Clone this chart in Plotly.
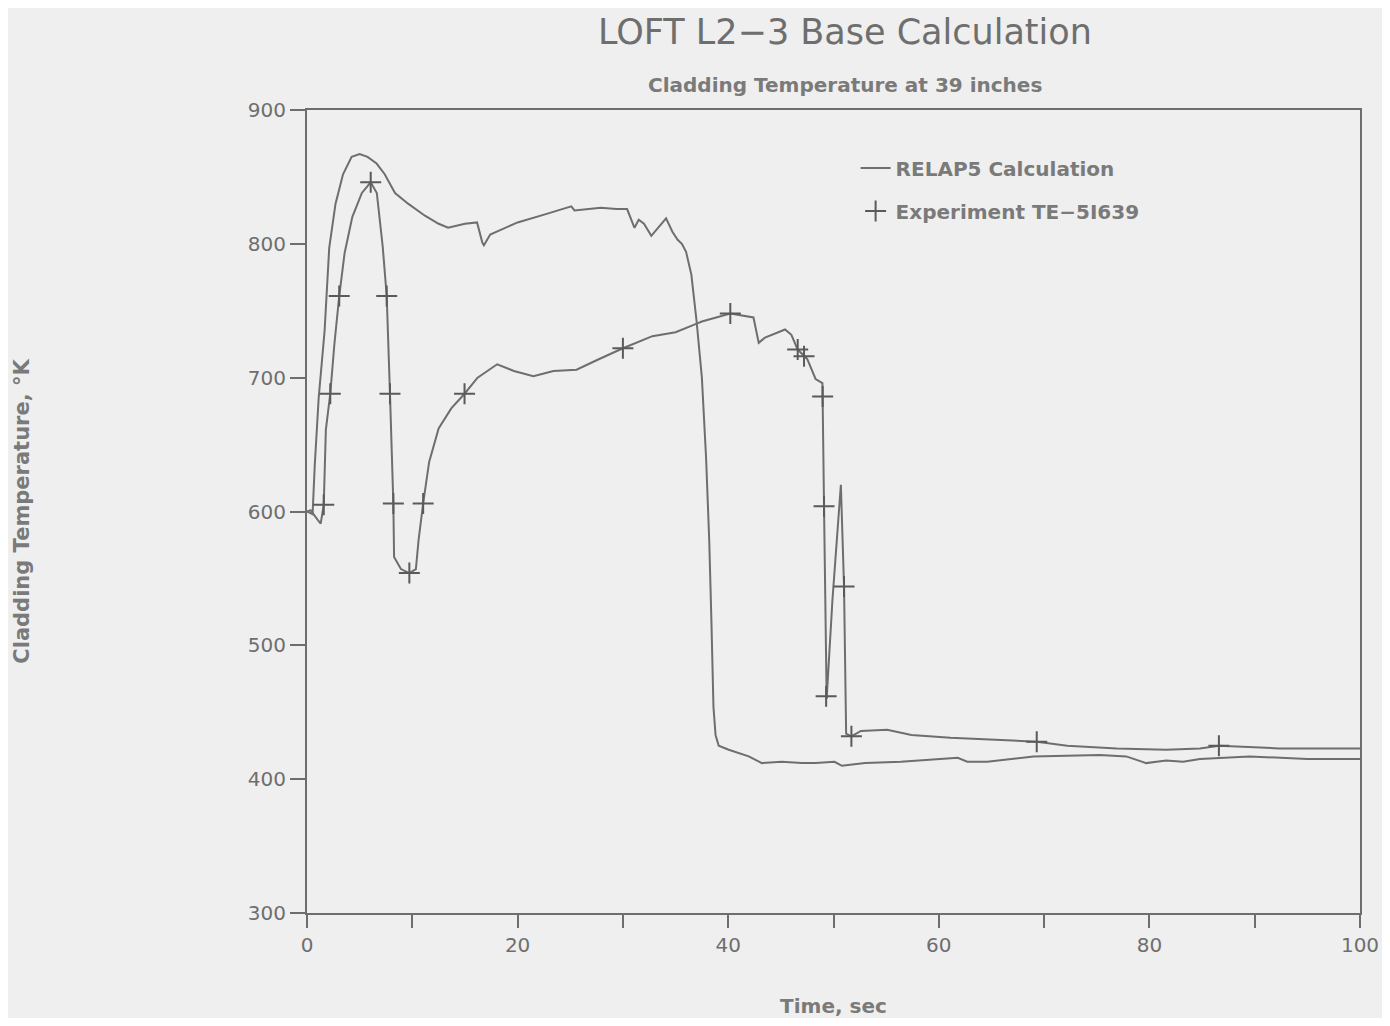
import plotly.graph_objects as go

# RELAP5 calculation (time s, temperature K)
calc_t = [0, 0.53, 0.74, 1.11, 1.67, 2.11, 2.71, 3.42, 4.24, 5.0, 5.75, 6.61, 7.38, 8.36, 9.6,
          11.2, 12.5, 13.4, 15.0, 16.15, 16.65, 16.8, 17.4, 20.0, 22.6, 25.1, 25.4, 27.9, 29.4,
          30.4, 31.1, 31.5, 32.0, 32.7, 34.1, 34.7, 35.2, 35.6, 36.0, 36.5, 37.0, 37.5, 37.9,
          38.2, 38.4, 38.6, 38.8, 39.1, 40.05, 41.95, 43.2, 45.1, 47.0, 48.3, 50.1, 50.8, 53.0,
          56.4, 61.8, 62.7, 64.6, 69.0, 75.3, 77.8, 79.7, 81.6, 83.2, 84.8, 89.5, 95.0, 100.0]
calc_T = [600, 598, 635, 685, 735, 797, 830, 852, 865, 867, 865, 860, 852, 838, 830,
          821, 815, 812, 815, 816, 801, 799, 807, 816, 822, 828, 825, 827, 826,
          826, 812, 818, 815, 806, 819, 809, 803, 800, 794, 777, 742, 700, 640,
          578, 520, 454, 433, 425, 422, 417, 412, 413, 412, 412, 413, 410, 412,
          413, 416, 413, 413, 417, 418, 417, 412, 414, 413, 415, 417, 415, 415]

# Experiment TE-5I639 trace
exp_t = [0, 0.34, 1.0, 1.3, 1.59, 1.79, 2.21, 2.6, 3.06, 3.57, 4.3, 5.21, 6.05, 6.63, 7.19,
         7.57, 7.88, 8.2, 8.27, 8.92, 9.72, 10.34, 10.6, 11.03, 11.6, 12.5, 13.7, 14.96, 16.2,
         18.06, 19.65, 21.5, 23.4, 25.6, 27.5, 30.0, 32.8, 35.0, 36.9, 37.5, 40.2, 42.4, 42.9,
         43.5, 45.4, 46.0, 46.6, 47.5, 48.3, 48.95, 49.1, 49.3, 49.35, 49.9, 50.7, 51.0, 51.2,
         51.7, 52.6, 55.1, 57.4, 61.1, 65.9, 69.3, 72.2, 76.9, 81.6, 84.8, 86.6, 92.3, 100.0]
exp_T = [600, 601, 594, 591, 605, 661, 688, 725, 761, 793, 820, 838, 846, 838, 798,
         761, 688, 606, 566, 557, 554, 557, 579, 606, 637, 662, 677, 688, 700,
         710, 705, 701, 705, 706, 713, 722, 731, 734, 740, 742, 748, 745, 726,
         730, 736, 732, 721, 714, 699, 696, 604, 468, 460, 534, 620, 544, 434,
         432, 436, 437, 433, 431, 429, 428, 425, 423, 422, 423, 425, 423, 423]

# Plotted "+" symbols on the experiment trace
mark_t = [1.59, 2.21, 3.06, 6.05, 7.57, 7.88, 8.2, 9.72, 11.03, 14.96, 30.0, 40.2,
          46.6, 47.2, 48.97, 49.1, 49.3, 51.0, 51.7, 69.3, 86.6]
mark_T = [605, 688, 761, 846, 761, 688, 606, 554, 606, 688, 722, 748,
          721, 716, 686, 604, 462, 544, 432, 428, 425]

x_ticks = [0, 10, 20, 30, 40, 50, 60, 70, 80, 90, 100]
x_labels = ["0", "", "20", "", "40", "", "60", "", "80", "", "100"]
y_ticks = [300, 400, 500, 600, 700, 800, 900]

ink = "#6e6e6e"
soft = "#7a7a7a"
font = "DejaVu Sans"

fig = go.Figure()
fig.add_trace(go.Scatter(x=calc_t, y=calc_T, mode="lines", name="RELAP5 Calculation",
                         legendgroup="calc", line=dict(color=ink, width=2)))
fig.add_trace(go.Scatter(x=exp_t, y=exp_T, mode="lines", showlegend=False,
                         legendgroup="exp", line=dict(color=ink, width=2)))
fig.add_trace(go.Scatter(x=mark_t, y=mark_T, mode="markers", name="Experiment TE\u22125I639",
                         legendgroup="exp",
                         marker=dict(symbol="cross-thin", size=15,
                                     line=dict(color="#5a5a5a", width=2))))

fig.update_layout(
    width=1374, height=1010,
    paper_bgcolor="#efefef", plot_bgcolor="#efefef",
    margin=dict(l=299, r=22, t=102, b=105),
    font=dict(family=font, color=ink, size=19),
    showlegend=True,
    legend=dict(x=0.521, y=0.952, xanchor="left", yanchor="top",
                bgcolor="rgba(0,0,0,0)",
                font=dict(size=20, color=soft, family=font, weight="bold"),
                itemwidth=30, tracegroupgap=14),
    annotations=[
        dict(text="LOFT L2\u22123 Base Calculation", xref="paper", yref="paper",
             x=0.511, y=1.0, yshift=78, showarrow=False,
             font=dict(size=35, color=ink, family=font), yanchor="middle"),
        dict(text="Cladding Temperature at 39 inches", xref="paper", yref="paper",
             x=0.511, y=1.0, yshift=25, showarrow=False,
             font=dict(size=20, color=soft, family=font, weight="bold"),
             yanchor="middle"),
    ],
)
fig.update_xaxes(range=[0, 100], tickvals=x_ticks, ticktext=x_labels,
                 ticks="outside", ticklen=13, tickwidth=2, tickcolor=ink,
                 showline=True, linecolor=ink, linewidth=2, mirror=True,
                 showgrid=False, zeroline=False, ticklabeloverflow="allow",
                 automargin=False,
                 tickfont=dict(size=20, color=ink),
                 title=dict(text="Time, sec",
                            font=dict(size=20, color=soft, family=font, weight="bold"),
                            standoff=58))
fig.update_yaxes(range=[300, 900], tickvals=y_ticks,
                 ticks="outside", ticklen=15, tickwidth=2, tickcolor=ink,
                 showline=True, linecolor=ink, linewidth=2, mirror=True,
                 showgrid=False, zeroline=False, automargin=False,
                 tickfont=dict(size=20, color=ink),
                 title=dict(text="Cladding Temperature, \u00b0K",
                            font=dict(size=21, color=soft, family=font, weight="bold"),
                            standoff=212))

fig.write_html("out.html")
